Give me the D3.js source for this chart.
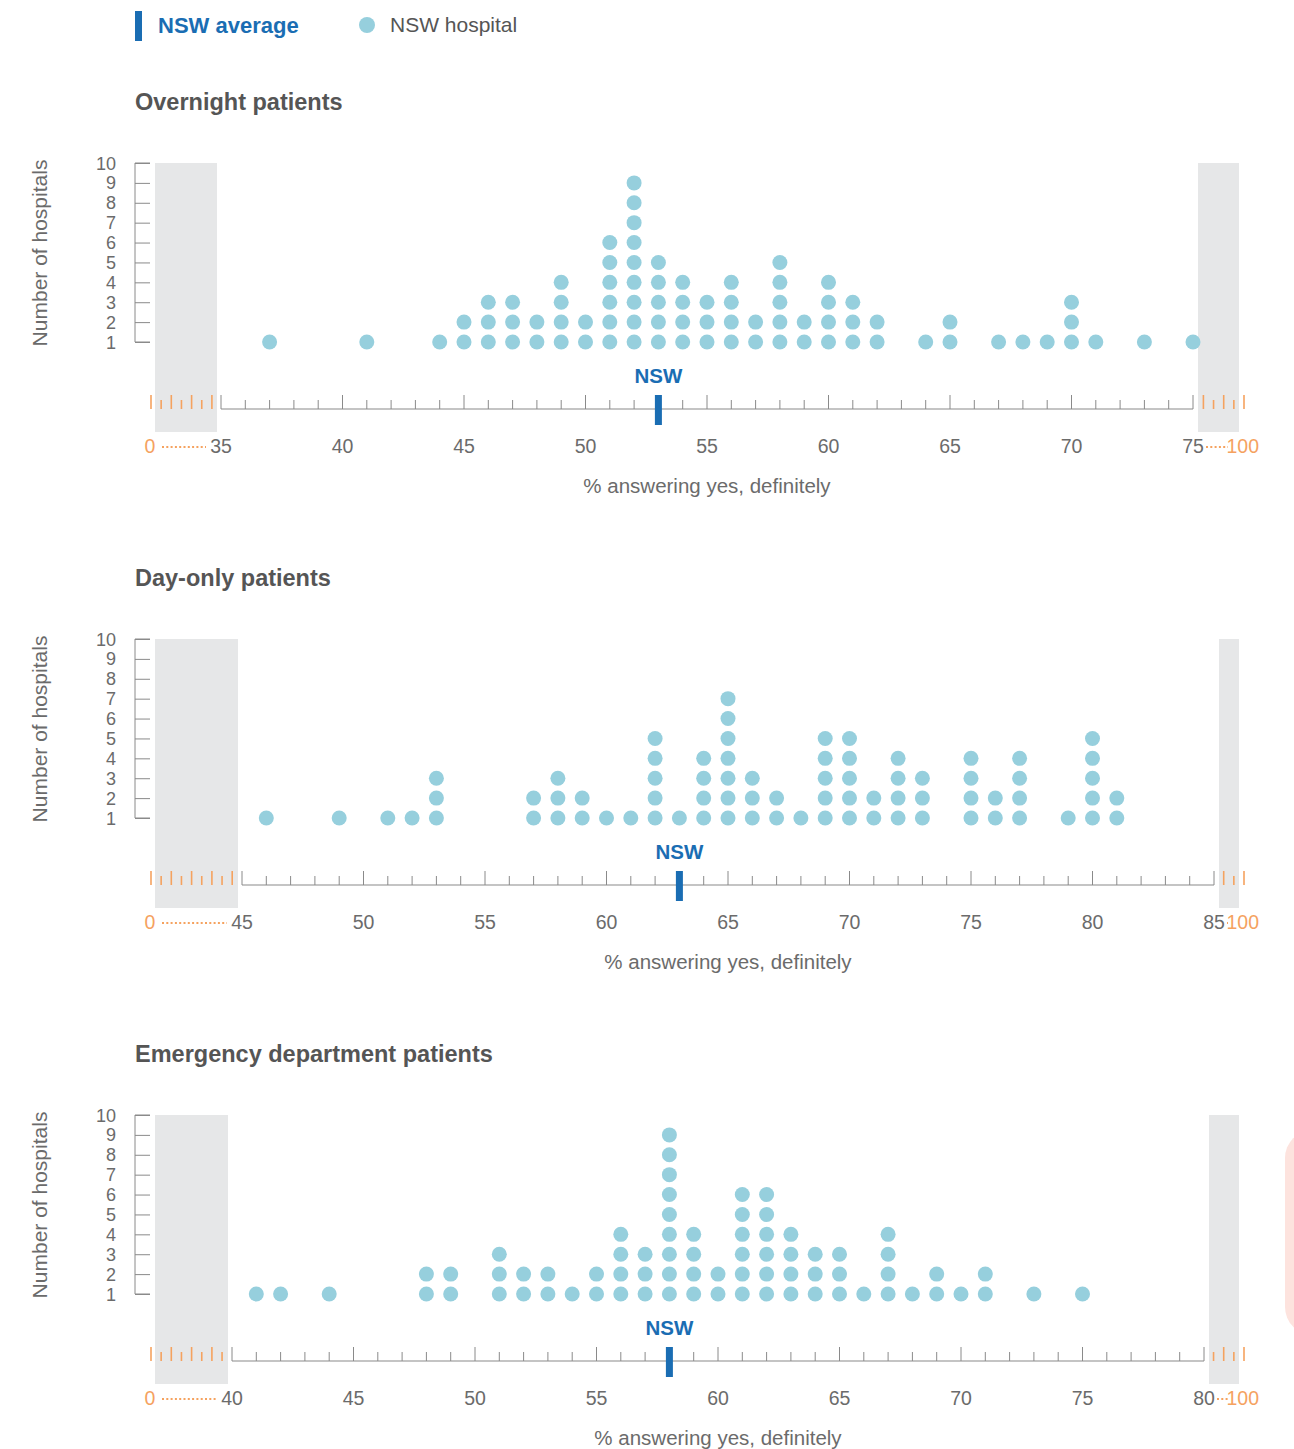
<!DOCTYPE html>
<html>
<head>
<meta charset="utf-8">
<script src="https://cdn.jsdelivr.net/npm/d3@7"></script>
<style>
  html, body { margin: 0; padding: 0; background: #fff; }
  svg { display: block; font-family: "Liberation Sans", Arial, sans-serif; }
</style>
</head>
<body>
<svg id="chart" width="1294" height="1449"></svg>
<script>
// ---------- DATA ----------
const panelTitles = ["Overnight patients", "Day-only patients", "Emergency department patients"];
const axisTitle = "% answering yes, definitely";
const yTickValues = [1, 2, 3, 4, 5, 6, 7, 8, 9, 10];

const overnightPct   = [37,41,44,45,46,47,48,49,50,51,52,53,54,55,56,57,58,59,60,61,62,64,65,67,68,69,70,71,73,75];
const overnightCount = [ 1, 1, 1, 2, 3, 3, 2, 4, 2, 6, 9, 5, 4, 3, 4, 2, 5, 2, 4, 3, 2, 1, 2, 1, 1, 1, 3, 1, 1, 1];
const overnightDomain = [35, 75];
const overnightNSW = 53;

const dayPct   = [46,49,51,52,53,57,58,59,60,61,62,63,64,65,66,67,68,69,70,71,72,73,75,76,77,79,80,81];
const dayCount = [ 1, 1, 1, 1, 3, 2, 3, 2, 1, 1, 5, 1, 4, 7, 3, 2, 1, 5, 5, 2, 4, 3, 4, 2, 4, 1, 5, 2];
const dayDomain = [45, 85];
const dayNSW = 63;

const edPct   = [41,42,44,48,49,51,52,53,54,55,56,57,58,59,60,61,62,63,64,65,66,67,68,69,70,71,73,75];
const edCount = [ 1, 1, 1, 2, 2, 3, 2, 2, 1, 2, 4, 3, 9, 4, 2, 6, 6, 4, 3, 3, 1, 4, 1, 2, 1, 2, 1, 1];
const edDomain = [40, 80];
const edNSW = 58;

const breakMin = 0, breakMax = 100;

// ---------- STYLE / LAYOUT ----------
const C = {
  dot: "#96cfdd",
  blue: "#1a6db3",
  orange: "#f5a25f",
  band: "#e6e7e8",
  text: "#6b6b6b",
  title: "#555555",
  axis: "#8a8a8a"
};

const panels = [
  { title: panelTitles[0], pct: overnightPct, count: overnightCount, domain: overnightDomain, nsw: overnightNSW, x0: 221 },
  { title: panelTitles[1], pct: dayPct, count: dayCount, domain: dayDomain, nsw: dayNSW, x0: 242 },
  { title: panelTitles[2], pct: edPct, count: edCount, domain: edDomain, nsw: edNSW, x0: 232 }
];

const svg = d3.select("#chart");

// Legend
const lg = svg.append("g");
lg.append("rect").attr("x", 135).attr("y", 11).attr("width", 7).attr("height", 30).attr("fill", C.blue);
lg.append("text").attr("x", 158).attr("y", 33).attr("font-size", 22).attr("font-weight", "bold")
  .attr("fill", C.blue).text("NSW average");
lg.append("circle").attr("cx", 367).attr("cy", 25).attr("r", 8).attr("fill", C.dot);
lg.append("text").attr("x", 390).attr("y", 32).attr("font-size", 21).attr("fill", C.title).text("NSW hospital");

const unitPx = 24.3;

panels.forEach((p, i) => {
  const oy = i * 476;
  const g = svg.append("g").attr("transform", `translate(0,${oy})`);
  const xStart = p.x0;
  const xEnd = xStart + (p.domain[1] - p.domain[0]) * unitPx;
  const x = d3.scaleLinear().domain(p.domain).range([xStart, xEnd]);
  const y = d3.scaleLinear().domain([1, 10]).range([342, 163]);
  const axisY = 409;

  // Title
  g.append("text").attr("x", 135).attr("y", 110).attr("font-size", 23.5).attr("font-weight", "bold")
    .attr("fill", C.title).text(p.title);

  // Gray break bands
  g.append("rect").attr("x", 155).attr("y", 163).attr("width", xStart - 4 - 155).attr("height", 269).attr("fill", C.band);
  g.append("rect").attr("x", xEnd + 5).attr("y", 163).attr("width", 1239 - (xEnd + 5)).attr("height", 269).attr("fill", C.band);

  // Y axis
  const yAxis = d3.axisRight(y).tickValues(yTickValues).tickSize(15).tickFormat("");
  const ya = g.append("g").attr("transform", "translate(135,0)").call(yAxis);
  ya.select(".domain").attr("stroke", C.axis).attr("d", `M15,${y(10)}H0V${y(1)}H15`);
  ya.selectAll(".tick line").attr("stroke", C.axis);
  g.selectAll(".ylab").data(yTickValues).join("text")
    .attr("x", 116).attr("y", d => y(d) + 6.5).attr("text-anchor", "end")
    .attr("font-size", 18).attr("fill", C.text).text(d => d);
  g.append("text").attr("transform", `translate(47,253) rotate(-90)`).attr("text-anchor", "middle")
    .attr("font-size", 21).attr("fill", C.text).text("Number of hospitals");

  // Dots
  const dots = [];
  p.pct.forEach((v, j) => { for (let k = 1; k <= p.count[j]; k++) dots.push({ v, k }); });
  g.selectAll(".dot").data(dots).join("circle")
    .attr("cx", d => x(d.v)).attr("cy", d => y(d.k)).attr("r", 7.5).attr("fill", C.dot);

  // X axis with minor/major ticks
  const ticks = d3.range(p.domain[0], p.domain[1] + 1);
  g.append("line").attr("x1", xStart).attr("x2", xEnd).attr("y1", axisY).attr("y2", axisY)
    .attr("stroke", C.axis).attr("stroke-width", 1.2);
  g.selectAll(".xt").data(ticks).join("line")
    .attr("x1", d => x(d)).attr("x2", d => x(d))
    .attr("y1", axisY).attr("y2", d => axisY - (d % 5 === 0 ? 14 : 9))
    .attr("stroke", C.axis).attr("stroke-width", 1);
  const labels = ticks.filter(d => d % 5 === 0);
  g.selectAll(".xl").data(labels).join("text")
    .attr("x", d => x(d)).attr("y", 453).attr("text-anchor", "middle")
    .attr("font-size", 19.5).attr("fill", C.text).text(d => d);

  // Break ticks (orange)
  const step = 10.15;
  const leftTicks = d3.range(151, xStart - 8, step);
  g.selectAll(".ol").data(leftTicks).join("line")
    .attr("x1", d => d).attr("x2", d => d).attr("y1", axisY)
    .attr("y2", (d, j) => axisY - (j % 2 === 0 ? 14 : 9))
    .attr("stroke", C.orange).attr("stroke-width", 1.6);
  const rightTicks = d3.range(1244, xEnd + 8, -step);
  g.selectAll(".or").data(rightTicks).join("line")
    .attr("x1", d => d).attr("x2", d => d).attr("y1", axisY)
    .attr("y2", (d, j) => axisY - (j % 2 === 0 ? 14 : 9))
    .attr("stroke", C.orange).attr("stroke-width", 1.6);

  // Break labels
  g.append("text").attr("x", 150).attr("y", 453).attr("text-anchor", "middle")
    .attr("font-size", 19.5).attr("fill", C.orange).text(breakMin);
  g.append("text").attr("x", 1259).attr("y", 453).attr("text-anchor", "end")
    .attr("font-size", 19.5).attr("fill", C.orange).text(breakMax);
  g.append("line").attr("x1", 162).attr("x2", xStart - 15).attr("y1", 447).attr("y2", 447)
    .attr("stroke", C.orange).attr("stroke-width", 2).attr("stroke-dasharray", "2,2.3");
  g.append("line").attr("x1", xEnd + 13).attr("x2", 1228).attr("y1", 447).attr("y2", 447)
    .attr("stroke", C.orange).attr("stroke-width", 2).attr("stroke-dasharray", "2,2.3");

  // NSW marker
  g.append("rect").attr("x", x(p.nsw) - 3.5).attr("y", 395).attr("width", 7).attr("height", 30).attr("fill", C.blue);
  g.append("text").attr("x", x(p.nsw)).attr("y", 383).attr("text-anchor", "middle")
    .attr("font-size", 20.5).attr("font-weight", "bold").attr("fill", C.blue).text("NSW");

  // Axis title
  g.append("text").attr("x", (xStart + xEnd) / 2).attr("y", 493).attr("text-anchor", "middle")
    .attr("font-size", 20.5).attr("fill", C.text).text(axisTitle);
});

// Partially visible decorative shape at right edge
svg.append("rect").attr("x", 1285).attr("y", 1130).attr("width", 60).attr("height", 205).attr("rx", 28)
  .attr("fill", "#fde3de");
</script>
</body>
</html>
